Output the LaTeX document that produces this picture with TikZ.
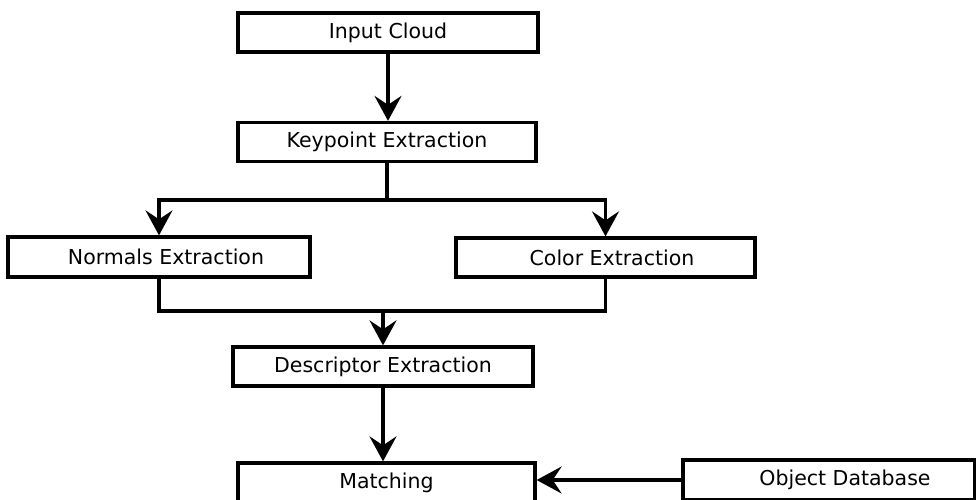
\documentclass[tikz,border=0pt]{standalone}
\usepackage{fontspec}
\setmainfont{DejaVu Sans}
\usetikzlibrary{arrows.meta}
\begin{document}
\begin{tikzpicture}[x=1pt,y=-1pt,
  box/.style={draw=black,line width=3.3pt,fill=white,inner sep=0pt,
    font=\fontsize{20.5}{24}\selectfont},
  conn/.style={line width=3.3pt,draw=black},
  arr/.style={conn,-{Stealth[length=25pt,width=27pt,inset=9pt]}}]
\useasboundingbox (0,0) rectangle (976,499);
\node[box,minimum width=300pt,minimum height=39pt] (in) at (388,32.5) {Input Cloud};
\node[box,minimum width=298pt,minimum height=39pt] (kp) at (387,142) {Keypoint Extraction};
\node[box,minimum width=302pt,minimum height=40pt] (ne) at (159,257) {\hspace*{14pt}Normals Extraction};
\node[box,minimum width=299pt,minimum height=39pt] (ce) at (605.5,257.5) {\hspace*{13pt}Color Extraction};
\node[box,minimum width=300pt,minimum height=39pt] (de) at (383,366.5) {Descriptor Extraction};
\node[box,minimum width=297pt,minimum height=40pt] (ma) at (386.5,483) {Matching};
\node[box,minimum width=292pt,minimum height=40pt] (od) at (829,480) {\hspace*{32pt}Object Database};
\coordinate (split) at (387,200);
\coordinate (merge) at (383,311);
\draw[arr] (in.south) -- (in.south |- kp.north);
\draw[conn] (kp.south) -- (split);
\draw[arr] (split) -| (ne.north);
\draw[arr] (split) -| (ce.north);
\draw[conn] (ne.south) |- (merge) -| (ce.south);
\draw[arr] (merge) -- (de.north);
\draw[arr] (de.south) -- (de.south |- ma.north);
\draw[arr] (od.west) -- (od.west -| ma.east);
\end{tikzpicture}
\end{document}
